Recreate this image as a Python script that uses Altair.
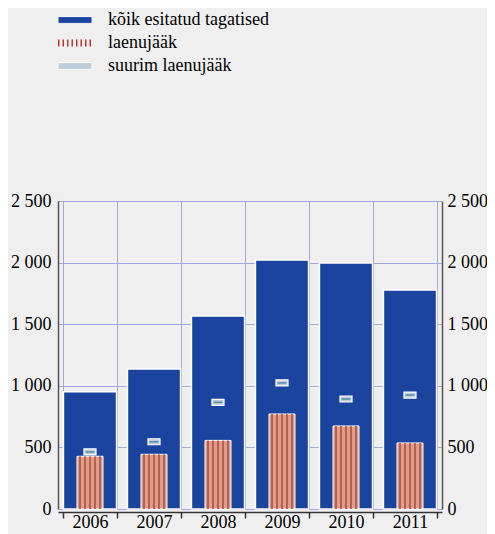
import altair as alt
import pandas as pd

years = ["2006", "2007", "2008", "2009", "2010", "2011"]
koik = [952, 1136, 1567, 2021, 1997, 1778]
laen = [428, 444, 557, 771, 674, 536]
suurim = [463, 546, 866, 1023, 893, 925]

names = ["kõik esitatud tagatised", "laenujääk", "suurim laenujääk"]
colors = ["#1a449e", "#d6a08c", "#bfcdd8"]

df = pd.DataFrame({"aasta": years, "koik": koik, "laen": laen, "suurim": suurim})

FONT = "Times New Roman, Liberation Serif, DejaVu Serif, serif"
GRID = "#a3a6dc"
ticks_vals = [0, 500, 1000, 1500, 2000, 2500]
lab = "replace(format(datum.value, ',d'), ',', ' ')"

yscale = alt.Scale(domain=[0, 2500], nice=False)
xscale = alt.Scale(paddingInner=0.17, paddingOuter=0.085)
xaxis = alt.Axis(title=None, labelAngle=0, tickBand="extent", tickOffset=5.4,
                 ticks=True, tickSize=6,
                 tickColor="#333", tickWidth=1.5, domainColor="#333", domainWidth=1.5,
                 offset=3, grid=True, gridColor=GRID, gridWidth=1,
                 labelFont=FONT, labelFontSize=18, labelColor="black", labelPadding=-5,
                 labelBaseline="top")
color_scale = alt.Scale(domain=names, range=colors)

RECT = "M-1,-0.2L1,-0.2L1,0.2L-1,0.2Z"
legend = alt.Legend(
    orient="none", legendX=8, legendY=-190, title=None,
    symbolType={"expr": "datum.label == 'laenujääk' ? 'M-1,0L1,0' : '" + RECT + "'"},
    symbolSize=1156,
    symbolStrokeColor={"expr": "datum.label == 'laenujääk' ? '#b5392a' : 'white'"},
    symbolStrokeWidth={"expr": "datum.label == 'laenujääk' ? 7 : 1"},
    symbolDash={"expr": "datum.label == 'laenujääk' ? [1.5, 3] : [1, 0]"},
    labelFont=FONT, labelFontSize=18, labelColor="black", labelOffset=24,
    labelLimit=400, rowPadding=0,
)

base = alt.Chart(df)
x = alt.X("aasta:N", scale=xscale, axis=xaxis)
col = alt.Color("seeria:N", scale=color_scale, legend=legend)

bars = base.transform_calculate(seeria=f"'{names[0]}'").mark_bar(
    stroke="white", strokeWidth=1.5).encode(
    x=x,
    y=alt.Y("koik:Q", scale=yscale, axis=alt.Axis(
        title=None, orient="left", values=ticks_vals, labelExpr=lab, grid=True,
        gridColor=GRID, gridWidth=1, ticks=False, domainColor="#555", domainWidth=1.5,
        labelFont=FONT, labelFontSize=18, labelColor="black", labelPadding=7)),
    color=col,
)

laenbars = base.transform_calculate(seeria=f"'{names[1]}'").mark_bar(
    width=26, stroke="white", strokeWidth=1).encode(
    x=x,
    y=alt.Y("laen:Q", scale=yscale, axis=None),
    color=col,
)

stripes = [
    base.mark_rule(xOffset=off, color="#b5392a", strokeWidth=1.3).encode(
        x=x,
        y=alt.Y("laen:Q", scale=yscale, axis=None),
        y2=alt.datum(0),
    )
    for off in [-10, -5, 0, 5, 10]
]

marker = base.transform_calculate(seeria=f"'{names[2]}'").mark_point(
    shape="M-1,-0.5L1,-0.5L1,0.5L-1,0.5Z", size=144, filled=True, opacity=1,
    stroke="white", strokeWidth=1.2).encode(
    x=x,
    y=alt.Y("suurim:Q", scale=yscale, axis=None),
    color=col,
)
markerline = base.mark_point(
    shape="M-0.75,0L0.75,0", size=144, filled=False, opacity=1,
    stroke="#5a8ca6", strokeWidth=1.5).encode(
    x=x,
    y=alt.Y("suurim:Q", scale=yscale, axis=None),
)

right = base.mark_point(opacity=0).encode(
    x=x,
    y=alt.Y("koik:Q", scale=yscale, axis=alt.Axis(
        title=None, orient="right", values=ticks_vals, labelExpr=lab, grid=False,
        ticks=False, domainColor="#555", domainWidth=1.5,
        labelFont=FONT, labelFontSize=18, labelColor="black", labelPadding=5)),
)

chart = alt.layer(bars, laenbars, *stripes, marker, markerline, right).resolve_axis(
    y="independent"
).properties(
    width=384, height=308,
    background="#efefef",
    padding={"left": 50, "top": 193, "right": 45, "bottom": 25},
    autosize=alt.AutoSizeParams(type="none"),
).configure_view(stroke=None)

chart.save("out.html", embed_options={"renderer": "svg", "actions": False})
